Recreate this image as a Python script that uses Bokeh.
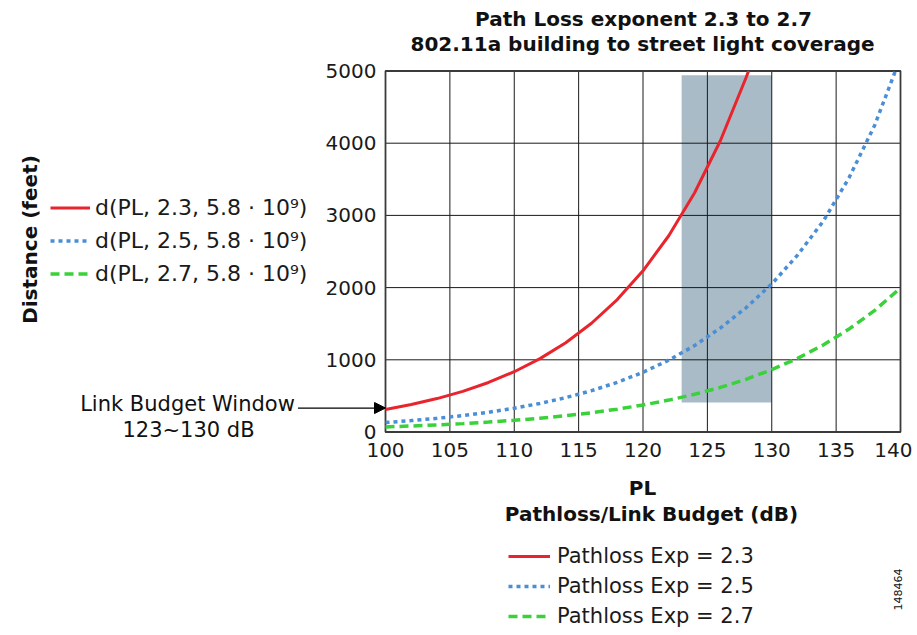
import math
from bokeh.plotting import figure
from bokeh.models import (Label, Legend, LegendItem, FixedTicker, Arrow,
                          NormalHead, Range1d)
from bokeh.embed import file_html
from bokeh.resources import INLINE

# ---- data ----
pl_23 = [100, 102, 104, 106, 108, 110, 112, 114, 116, 118, 120,
         122, 124, 126, 128, 128.2]
dist_23 = [312, 380, 463, 563, 686, 835, 1016, 1237, 1506, 1834, 2233,
           2718, 3310, 4030, 4906, 5000]
pl_25 = [100, 102, 104, 106, 108, 110, 112, 114, 116, 118, 120,
         122, 124, 126, 128, 130, 132, 134, 136, 138, 139.6]
dist_25 = [131, 158, 189, 228, 274, 329, 396, 476, 572, 688, 827,
           995, 1196, 1438, 1720, 2050, 2450, 2920, 3520, 4250, 5000]
pl_27 = [100, 102, 104, 106, 108, 110, 112, 114, 116, 118, 120,
         122, 124, 126, 128, 130, 132, 134, 136, 138, 140]
dist_27 = [70, 83, 98, 116, 137, 162, 191, 226, 267, 316, 374,
           442, 522, 617, 730, 863, 1020, 1206, 1425, 1685, 1995]
window_pl = [123, 130]          # link budget window (dB)
window_dist = [410, 4940]       # vertical extent of the shaded band (feet)
x_ticks = [100, 105, 110, 115, 120, 125, 130, 135, 140]
y_ticks = [0, 1000, 2000, 3000, 4000, 5000]
left_labels = ["d(PL, 2.3, 5.8 \u00b7 10\u2079)", "d(PL, 2.5, 5.8 \u00b7 10\u2079)",
               "d(PL, 2.7, 5.8 \u00b7 10\u2079)"]
bottom_labels = ["Pathloss Exp = 2.3", "Pathloss Exp = 2.5", "Pathloss Exp = 2.7"]
arrow_pl = [93.2, 100]
arrow_dist = 332

# ---- layout (pixels) ----
W, H = 912, 632
FL, FR, FT, FB = 385.0, 900.0, 70.5, 431.5      # chart box in canvas pixels
xs = (x_ticks[-1] - x_ticks[0]) / (FR - FL)      # dB per pixel
ys = (y_ticks[-1] - y_ticks[0]) / (FB - FT)      # feet per pixel
x_range = Range1d(x_ticks[0] - FL * xs, x_ticks[0] + (W - FL) * xs)
y_range = Range1d(y_ticks[0] - (H - FB) * ys, y_ticks[0] + FB * ys)

FONT = "DejaVu Sans"
p = figure(width=W, height=H, x_range=x_range, y_range=y_range,
           output_backend="svg", toolbar_location=None,
           min_border=0, min_border_left=0, min_border_right=0,
           min_border_top=0, min_border_bottom=0)
p.title.visible = False
p.outline_line_color = None
p.background_fill_color = "white"
p.border_fill_color = "white"
p.xgrid.visible = False
p.ygrid.visible = False

xa, ya = p.xaxis[0], p.yaxis[0]
xa.fixed_location = y_ticks[0]
ya.fixed_location = x_ticks[0]
xa.bounds = (x_ticks[0], x_ticks[-1])
ya.bounds = (y_ticks[0], y_ticks[-1])
xa.ticker = FixedTicker(ticks=x_ticks)
ya.ticker = FixedTicker(ticks=y_ticks)
for ax in (xa, ya):
    ax.axis_line_color = None
    ax.major_tick_in = 0
    ax.major_tick_out = 0
    ax.minor_tick_in = 0
    ax.minor_tick_out = 0
    ax.major_label_text_font = FONT
    ax.major_label_text_font_size = "20px"
    ax.major_label_text_color = "#1a1a1a"
xa.major_label_standoff = 11
ya.major_label_standoff = 9

# shaded link budget window
p.quad(left=[window_pl[0]], right=[window_pl[1]], bottom=[window_dist[0]],
       top=[window_dist[1]], fill_color="#a9bbc7", line_color=None)

# grid lines built from the tick lists
p.segment(x0=x_ticks, x1=x_ticks, y0=[y_ticks[0]] * len(x_ticks),
          y1=[y_ticks[-1]] * len(x_ticks), line_color="#1a1a1a", line_width=1)
p.segment(x0=[x_ticks[0]] * len(y_ticks), x1=[x_ticks[-1]] * len(y_ticks),
          y0=y_ticks, y1=y_ticks, line_color="#1a1a1a", line_width=1)
p.quad(left=[x_ticks[0]], right=[x_ticks[-1]], bottom=[y_ticks[0]], top=[y_ticks[-1]],
       fill_color=None, line_color="#3a3a3a", line_width=1.8)

r1 = p.line(pl_23, dist_23, line_color="#e8242c", line_width=3)
r2 = p.line(pl_25, dist_25, line_color="#4a8fd6", line_width=3.5, line_dash="4 4")
r3 = p.line(pl_27, dist_27, line_color="#3ad13a", line_width=3.5, line_dash="9 5")
rends = [r1, r2, r3]

# legends (positions: bottom-left corner, pixels from canvas bottom-left)
leg1 = Legend(items=[LegendItem(label=l, renderers=[r]) for l, r in zip(left_labels, rends)],
              location=(50, H - 289.5), orientation="vertical")
leg2 = Legend(items=[LegendItem(label=l, renderers=[r]) for l, r in zip(bottom_labels, rends)],
              location=(508, H - 631), orientation="vertical")
for lg, rowh, gw, st, fs in ((leg1, 33, 40, 5, "22px"), (leg2, 30, 42, 7, "21px")):
    lg.border_line_color = None
    lg.background_fill_alpha = 0
    lg.padding = 0
    lg.margin = 0
    lg.spacing = 0
    lg.glyph_width = gw
    lg.glyph_height = rowh
    lg.label_height = rowh
    lg.label_standoff = st
    lg.label_text_font = FONT
    lg.label_text_font_size = fs
    lg.label_text_color = "#1a1a1a"
    p.add_layout(lg)


def lab(text, x, y, size, bold=False, angle=0, align="center"):
    p.add_layout(Label(x=x, y=H - y, x_units="screen", y_units="screen", text=text,
                       text_font=FONT, text_font_size=size,
                       text_font_style="bold" if bold else "normal",
                       text_align=align, text_baseline="middle", angle=angle,
                       text_color="#111111"))

lab("Path Loss exponent 2.3 to 2.7", 643, 18, "20px", bold=True)
lab("802.11a building to street light coverage", 642, 43.5, "20px", bold=True)
lab("Distance (feet)", 29, 239, "20px", bold=True, angle=math.pi / 2)
lab("PL", 642, 487.5, "20px", bold=True)
lab("Pathloss/Link Budget (dB)", 651, 513.5, "20px", bold=True)
lab("Link Budget Window", 187, 403, "21px")
lab("123~130 dB", 188, 429, "21px")
lab("148464", 897, 589, "11px", angle=math.pi / 2)

p.add_layout(Arrow(end=NormalHead(size=11, fill_color="black", line_color="black"),
                   x_start=arrow_pl[0], y_start=arrow_dist, x_end=arrow_pl[1], y_end=arrow_dist,
                   line_color="black", line_width=1.2))

open("out.html", "w").write(file_html(p, INLINE))
